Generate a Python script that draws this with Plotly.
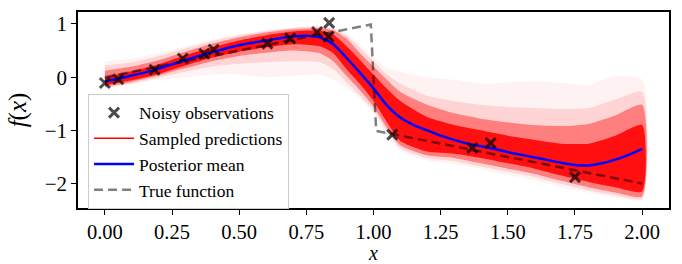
import plotly.graph_objects as go

# Grid for the band outlines
band_x = [0, 0.1, 0.2, 0.3, 0.4, 0.5, 0.6, 0.7, 0.8, 0.85, 0.9, 0.95, 1.0, 1.05,
          1.1, 1.2, 1.3, 1.4, 1.5, 1.6, 1.7, 1.8, 1.9, 2.0]
# faint outer envelope of the sampled predictions
outer_lo = [-0.22, -0.14, -0.05, 0.0, 0.05, 0.05, 0.0, 0.02, 0.05, -0.05, -0.2, -0.40,
            -0.68, -1.08, -1.38, -1.57, -1.63, -1.73, -1.84, -1.94, -2.07, -2.17, -2.26, -2.30]
outer_hi = [0.30, 0.35, 0.45, 0.58, 0.70, 0.80, 0.88, 0.93, 0.97, 0.93, 0.83, 0.62,
            0.38, 0.18, 0.10, 0.0, -0.05, -0.12, -0.10, -0.08, -0.10, -0.15, 0.02, -0.05]
# light envelope
light_lo = [-0.20, -0.12, -0.01, 0.10, 0.20, 0.25, 0.28, 0.30, 0.28, 0.15, -0.10, -0.35,
            -0.62, -1.02, -1.33, -1.52, -1.58, -1.68, -1.78, -1.88, -2.01, -2.13, -2.22, -2.28]
light_hi = [0.22, 0.28, 0.40, 0.54, 0.68, 0.79, 0.87, 0.93, 0.95, 0.91, 0.78, 0.55,
            0.30, 0.05, -0.12, -0.35, -0.45, -0.52, -0.56, -0.58, -0.60, -0.58, -0.42, -0.28]
# medium density envelope
mid_lo = [-0.18, -0.09, 0.03, 0.17, 0.30, 0.40, 0.46, 0.50, 0.45, 0.30, 0.02, -0.25,
          -0.55, -0.95, -1.28, -1.47, -1.52, -1.62, -1.72, -1.82, -1.95, -2.07, -2.17, -2.24]
mid_hi = [0.12, 0.20, 0.32, 0.48, 0.63, 0.75, 0.84, 0.90, 0.92, 0.88, 0.72, 0.45,
          0.20, -0.05, -0.28, -0.52, -0.68, -0.78, -0.85, -0.90, -0.92, -0.88, -0.72, -0.52]
# dense core
core_lo = [-0.15, -0.06, 0.06, 0.22, 0.37, 0.48, 0.56, 0.62, 0.58, 0.45, 0.15, -0.13,
           -0.45, -0.85, -1.20, -1.40, -1.44, -1.52, -1.62, -1.72, -1.85, -1.97, -2.07, -2.15]
core_hi = [0.00, 0.11, 0.24, 0.41, 0.56, 0.69, 0.79, 0.86, 0.88, 0.80, 0.58, 0.32,
           0.05, -0.22, -0.45, -0.75, -0.90, -1.00, -1.10, -1.18, -1.25, -1.25, -1.10, -0.90]

# posterior mean
mean_x = [0, 0.05, 0.1, 0.15, 0.2, 0.25, 0.3, 0.35, 0.4, 0.45, 0.5, 0.55, 0.6, 0.65,
          0.7, 0.75, 0.8, 0.85, 0.9, 0.95, 1.0, 1.05, 1.1, 1.15, 1.2, 1.25, 1.3, 1.35,
          1.4, 1.45, 1.5, 1.55, 1.6, 1.65, 1.7, 1.75, 1.8, 1.85, 1.9, 1.95, 2.0]
mean_y = [-0.08, -0.03, 0.03, 0.09, 0.16, 0.24, 0.32, 0.40, 0.47, 0.54, 0.60, 0.645,
          0.69, 0.73, 0.765, 0.78, 0.75, 0.62, 0.36, 0.08, -0.21, -0.53, -0.76, -0.90,
          -1.00, -1.10, -1.18, -1.25, -1.30, -1.35, -1.41, -1.46, -1.51, -1.56, -1.61,
          -1.65, -1.66, -1.62, -1.55, -1.46, -1.35]

# true function key points
true_x = [0, 0.99, 1.01, 2.0]
true_y = [0, 0.99, -1.01, -2.0]

# noisy observations
obs_x = [0.0, 0.05, 0.185, 0.29, 0.37, 0.405, 0.605, 0.69, 0.79, 0.835, 0.833,
         1.07, 1.368, 1.436, 1.75]
obs_y = [-0.11, -0.04, 0.14, 0.35, 0.44, 0.52, 0.63, 0.73, 0.85, 1.02, 0.76,
         -1.08, -1.33, -1.24, -1.88]

x_ticks = [0.0, 0.25, 0.5, 0.75, 1.0, 1.25, 1.5, 1.75, 2.0]
x_ticktext = ["0.00", "0.25", "0.50", "0.75", "1.00", "1.25", "1.50", "1.75", "2.00"]
y_ticks = [-2, -1, 0, 1]
y_ticktext = ["\u22122", "\u22121", "0", "1"]

FONT = "Liberation Serif, Times New Roman, serif"

fig = go.Figure()

def band(lo, hi, alpha):
    fig.add_trace(go.Scatter(
        x=band_x + band_x[::-1], y=lo + hi[::-1],
        fill="toself", fillcolor=f"rgba(255,0,0,{alpha})",
        line=dict(width=0, shape="spline", smoothing=0.6),
        mode="lines", showlegend=False, hoverinfo="skip"))

band(outer_lo, outer_hi, 0.05)
band(light_lo, light_hi, 0.12)
band(mid_lo, mid_hi, 0.4)
band(core_lo, core_hi, 0.88)

fig.add_trace(go.Scatter(
    x=[None], y=[None], mode="lines", name="Sampled predictions",
    legendrank=2, line=dict(color="#ff0000", width=1.5)))
fig.add_trace(go.Scatter(
    x=true_x, y=true_y, mode="lines", name="True function",
    legendrank=4, line=dict(color="rgba(0,0,0,0.5)", width=2.5, dash="9px,5px")))
fig.add_trace(go.Scatter(
    x=mean_x, y=mean_y, mode="lines", name="Posterior mean",
    legendrank=3, line=dict(color="#0000ff", width=2.5, shape="spline", smoothing=0.8)))
fig.add_trace(go.Scatter(
    x=obs_x, y=obs_y, mode="markers", name="Noisy observations",
    legendrank=1,
    marker=dict(symbol="x-thin", size=10, color="rgba(0,0,0,0.7)",
                line=dict(width=3, color="rgba(0,0,0,0.7)"))))

fig.update_layout(
    width=682, height=264,
    margin=dict(l=78, r=13, t=12, b=56),
    paper_bgcolor="white", plot_bgcolor="white",
    font=dict(family=FONT, size=21, color="black"),
    showlegend=True,
    legend=dict(x=0.017, y=0.583, xanchor="left", yanchor="top",
                bgcolor="rgba(255,255,255,0.8)", bordercolor="#cccccc", borderwidth=1,
                font=dict(size=17.5, family=FONT), itemwidth=40,
                traceorder="normal"),
)
fig.update_xaxes(range=[-0.1, 2.1], tickvals=x_ticks, ticktext=x_ticktext,
                 ticks="outside", ticklen=5, tickwidth=1.2, tickcolor="black",
                 tickfont=dict(size=20.5),
                 showline=True, linecolor="black", linewidth=1.5, mirror=True,
                 showgrid=False, zeroline=False, automargin=False,
                 title=dict(text="<i>x</i>", standoff=12, font=dict(size=20)))
fig.update_yaxes(range=[-2.46, 1.225], tickvals=y_ticks, ticktext=y_ticktext,
                 ticks="outside", ticklen=5, tickwidth=1.2, tickcolor="black",
                 showline=True, linecolor="black", linewidth=1.5, mirror=True,
                 showgrid=False, zeroline=False, automargin=False,
                 title=dict(text="<i>f</i>(<i>x</i>)", standoff=11))

fig.write_html("out.html", config={"displayModeBar": False},
               post_script="document.body.style.margin='0';document.body.style.overflow='hidden';")
